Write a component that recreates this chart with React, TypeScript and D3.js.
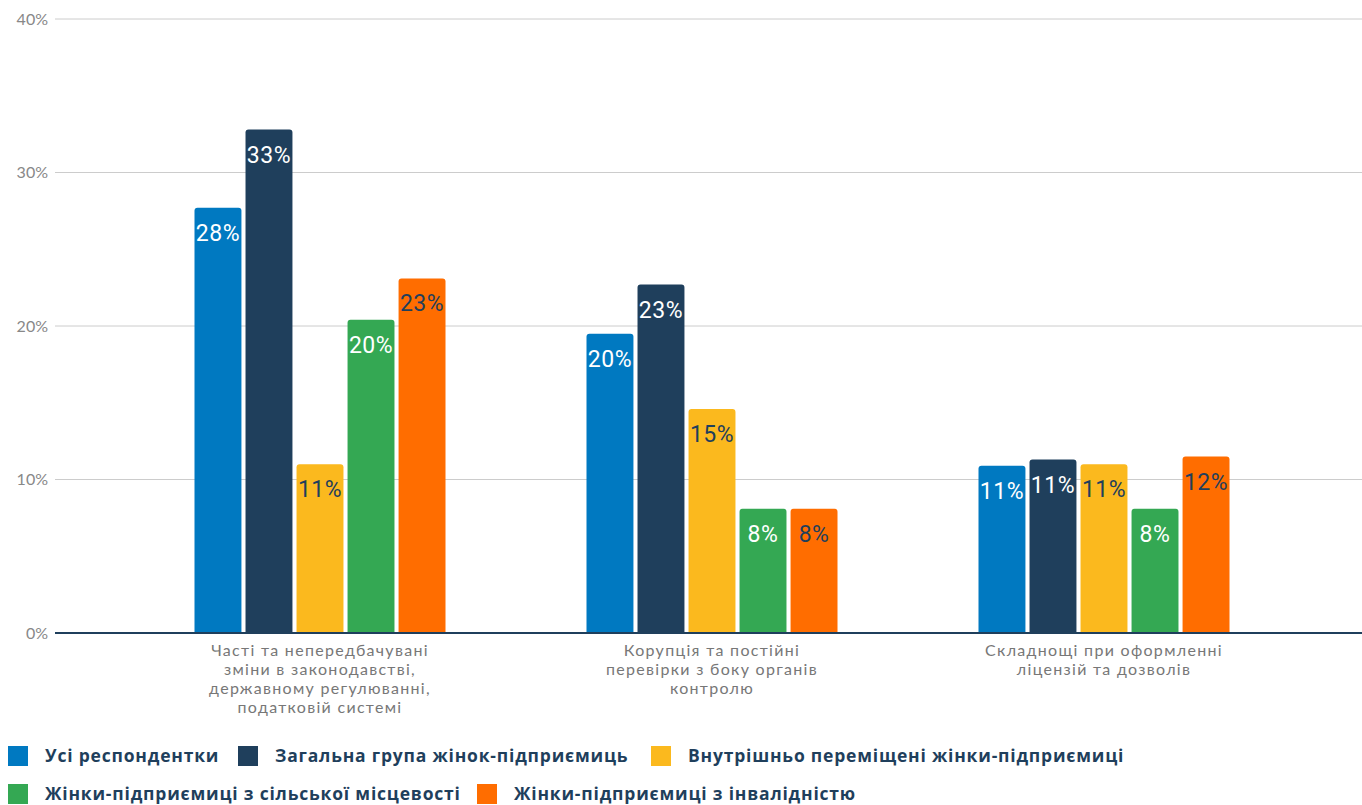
import React from "react";
import * as d3 from "d3";

const categories: string[][] = [
  ["Часті та непередбачувані", "зміни в законодавстві,", "державному регулюванні,", "податковій системі"],
  ["Корупція та постійні", "перевірки з боку органів", "контролю"],
  ["Складнощі при оформленні", "ліцензій та дозволів"],
];
const seriesNames = [
  "Усі респондентки",
  "Загальна група жінок-підприємиць",
  "Внутрішньо переміщені жінки-підприємиці",
  "Жінки-підприємиці з сільської місцевості",
  "Жінки-підприємиці з інвалідністю",
];
const seriesColors = ["#0079C1", "#1F3F5C", "#FBB91E", "#34A853", "#FF6D00"];
const labelColors = ["#ffffff", "#ffffff", "#1F3F5C", "#ffffff", "#1F3F5C"];
// values[series][category]
const values: number[][] = [
  [27.7, 19.5, 10.9],
  [32.8, 22.7, 11.3],
  [11.0, 14.6, 11.0],
  [20.4, 8.1, 8.1],
  [23.1, 8.1, 11.5],
];
const yTicks = [0, 10, 20, 30, 40];

const W = 1362;
const H = 805;

export default function App() {
  const y = d3.scaleLinear().domain([0, 40]).range([633, 19]);
  const x0 = d3.scaleBand<number>().domain([0, 1, 2]).range([124, 1300]).padding(0);
  const groupW = 251;
  const x1 = d3.scaleBand<number>().domain([0, 1, 2, 3, 4]).range([0, groupW]).paddingInner(0.08).paddingOuter(0);

  const roundedTop = (x: number, yTop: number, w: number, yBot: number, r: number) => {
    const p = d3.path();
    p.moveTo(x, yBot);
    p.lineTo(x, yTop + r);
    p.arcTo(x, yTop, x + r, yTop, r);
    p.lineTo(x + w - r, yTop);
    p.arcTo(x + w, yTop, x + w, yTop + r, r);
    p.lineTo(x + w, yBot);
    p.closePath();
    return p.toString();
  };

  const legendRows = [
    [
      { i: 0, x: 8 },
      { i: 1, x: 238 },
      { i: 2, x: 651 },
    ],
    [
      { i: 3, x: 8 },
      { i: 4, x: 477 },
    ],
  ];
  const legendY = [756, 794];

  return (
    <svg
      width={W}
      height={H}
      style={{ position: "absolute", left: 0, top: 0, display: "block" }}
      xmlns="http://www.w3.org/2000/svg"
    >
      <rect width={W} height={H} fill="#ffffff" />
      {yTicks.map((t) => (
        <g key={t}>
          {t !== 0 && (
            <line x1={55} x2={W} y1={y(t)} y2={y(t)} stroke="#cccccc" strokeWidth={1} />
          )}
          <text
            x={48}
            y={y(t)}
            dy="0.35em"
            textAnchor="end"
            fontFamily="Lato, sans-serif"
            fontSize={16}
            fill="#888888"
          >
            {t}%
          </text>
        </g>
      ))}
      {categories.map((cat, ci) => {
        const gx = x0(ci)! + x0.bandwidth() / 2 - groupW / 2;
        return (
          <g key={ci}>
            {values.map((sv, si) => {
              const v = sv[ci];
              const bx = gx + x1(si)!;
              const bw = x1.bandwidth();
              return (
                <g key={si}>
                  <path d={roundedTop(bx, y(v), bw, y(0), 3)} fill={seriesColors[si]} />
                  <text
                    x={bx + bw / 2}
                    y={y(v) + 25}
                    dy="0.35em"
                    textAnchor="middle"
                    fontFamily="Roboto, sans-serif"
                    fontSize={23}
                    letterSpacing={0.5}
                    fill={labelColors[si]}
                  >
                    {Math.round(v)}%
                  </text>
                </g>
              );
            })}
            <text
              x={x0(ci)! + x0.bandwidth() / 2}
              y={656}
              textAnchor="middle"
              fontFamily="Lato, sans-serif"
              fontSize={16}
              letterSpacing={1.3}
              fill="#777777"
            >
              {cat.map((line, li) => (
                <tspan key={li} x={x0(ci)! + x0.bandwidth() / 2} dy={li === 0 ? 0 : 19}>
                  {line}
                </tspan>
              ))}
            </text>
          </g>
        );
      })}
      <line x1={55} x2={W} y1={y(0)} y2={y(0)} stroke="#1F3F5C" strokeWidth={2} />
      {legendRows.map((row, ri) =>
        row.map(({ i, x }) => (
          <g key={i}>
            <rect x={x} y={legendY[ri] - 10} width={20} height={20} fill={seriesColors[i]} />
            <text
              x={x + 37}
              y={legendY[ri]}
              dy="0.35em"
              fontFamily="'Open Sans', sans-serif"
              fontWeight={700}
              fontSize={17.5}
              letterSpacing={0.8}
              fill="#1F3F5C"
            >
              {seriesNames[i]}
            </text>
          </g>
        ))
      )}
    </svg>
  );
}
